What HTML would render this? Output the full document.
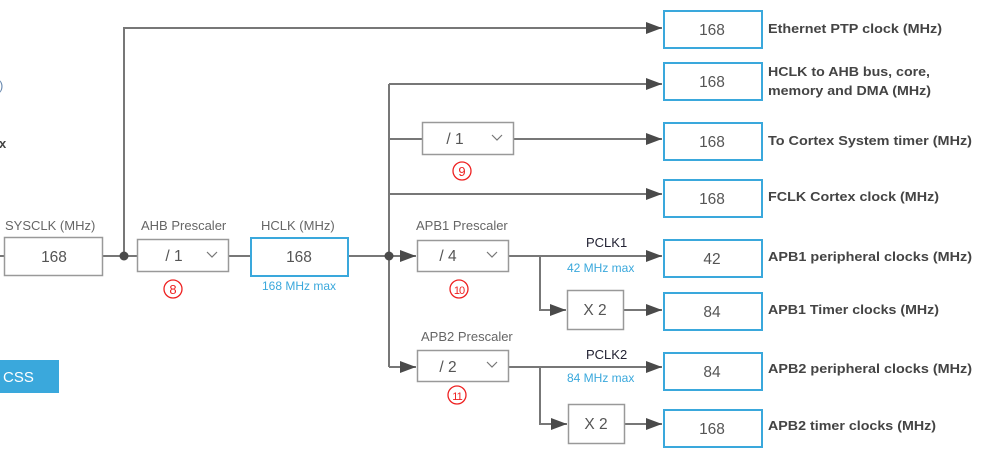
<!DOCTYPE html>
<html><head><meta charset="utf-8"><style>
html,body{margin:0;padding:0;background:#fff;}
svg{display:block;font-family:"Liberation Sans",Arial,sans-serif;}
</style></head><body>
<svg width="992" height="457" viewBox="0 0 992 457" xmlns="http://www.w3.org/2000/svg">
<defs>
<marker id="a" markerWidth="16" markerHeight="12" refX="16" refY="6" orient="auto" markerUnits="userSpaceOnUse">
<path d="M0,0 L16,6 L0,12 Z" fill="#4a4a4a"/></marker>
</defs>
<g stroke="#777" stroke-width="2" fill="none">
<line x1="0" y1="256" x2="4" y2="256"/>
<line x1="103" y1="256" x2="137" y2="256"/>
<polyline points="124,256 124,28 662,28" marker-end="url(#a)"/>
<line x1="228" y1="256" x2="250" y2="256"/>
<line x1="348" y1="256" x2="389" y2="256"/>
<line x1="389" y1="84" x2="389" y2="367"/>
<line x1="389" y1="84" x2="662" y2="84" marker-end="url(#a)"/>
<line x1="389" y1="139" x2="422" y2="139"/>
<line x1="514" y1="139" x2="662" y2="139" marker-end="url(#a)"/>
<line x1="389" y1="194" x2="662" y2="194" marker-end="url(#a)"/>
<line x1="389" y1="256" x2="416" y2="256" marker-end="url(#a)"/>
<line x1="389" y1="367" x2="416" y2="367" marker-end="url(#a)"/>
<line x1="508" y1="256" x2="662" y2="256" marker-end="url(#a)"/>
<polyline points="540,256 540,310 566,310" marker-end="url(#a)"/>
<line x1="623" y1="310" x2="662" y2="310" marker-end="url(#a)"/>
<line x1="508" y1="367" x2="662" y2="367" marker-end="url(#a)"/>
<polyline points="540,367 540,424 567,424" marker-end="url(#a)"/>
<line x1="624" y1="424" x2="662" y2="424" marker-end="url(#a)"/>
</g>
<circle cx="124" cy="256" r="4.5" fill="#4a4a4a"/>
<circle cx="389" cy="256" r="4.5" fill="#4a4a4a"/>
<g fill="#fff" stroke="#999" stroke-width="1.5">
<rect x="4.5" y="237.5" width="98" height="38"/>
<rect x="137.5" y="239.5" width="91" height="32"/>
<rect x="422.5" y="122.5" width="91" height="32"/>
<rect x="417.5" y="240.5" width="91" height="31"/>
<rect x="417.5" y="350.5" width="91" height="31"/>
<rect x="567.5" y="290.5" width="56" height="39"/>
<rect x="568.5" y="404.5" width="56" height="39"/>
</g>
<g fill="#fff" stroke="#3aa8dc" stroke-width="2">
<rect x="251" y="238" width="97" height="38"/>
<rect x="664" y="11" width="98" height="37"/>
<rect x="664" y="63" width="98" height="37"/>
<rect x="664" y="123" width="98" height="37"/>
<rect x="664" y="180" width="98" height="37"/>
<rect x="664" y="240" width="98" height="37"/>
<rect x="664" y="293" width="98" height="37"/>
<rect x="664" y="353" width="98" height="37"/>
<rect x="664" y="410" width="98" height="37"/>
</g>
<g fill="none" stroke="#777" stroke-width="1.2">
<polyline points="207,252 212,257 217,252"/>
<polyline points="492,135 497,140 502,135"/>
<polyline points="487,252 492,257 497,252"/>
<polyline points="487,362 492,367 497,362"/>
</g>
<g font-size="15.5" fill="#555" text-anchor="middle">
<text x="54" y="262">168</text>
<text x="299" y="262">168</text>
<text x="174" y="261">/ 1</text>
<text x="455" y="144">/ 1</text>
<text x="448" y="261">/ 4</text>
<text x="448" y="372">/ 2</text>
<text x="595" y="315">X 2</text>
<text x="596" y="429">X 2</text>
<text x="712" y="35">168</text>
<text x="712" y="87">168</text>
<text x="712" y="147">168</text>
<text x="712" y="204">168</text>
<text x="712" y="264">42</text>
<text x="712" y="317">84</text>
<text x="712" y="377">84</text>
<text x="712" y="434">168</text>
</g>
<g font-size="13" fill="#666">
<text x="5" y="230">SYSCLK (MHz)</text>
<text x="141" y="230">AHB Prescaler</text>
<text x="261" y="230">HCLK (MHz)</text>
<text x="416" y="230">APB1 Prescaler</text>
<text x="421" y="341">APB2 Prescaler</text>
</g>
<g font-size="13" fill="#223">
<text x="586" y="247">PCLK1</text>
<text x="586" y="359">PCLK2</text>
</g>
<g font-size="12" fill="#3aa8dc">
<text x="262" y="290">168 MHz max</text>
<text x="567" y="272">42 MHz max</text>
<text x="567" y="382">84 MHz max</text>
</g>
<g fill="none" stroke="#e22" stroke-width="1.3">
<circle cx="173" cy="289" r="9"/>
<circle cx="462" cy="171" r="9"/>
<circle cx="459" cy="289" r="9"/>
<circle cx="457" cy="395" r="9"/>
</g>
<g font-size="13" fill="#e22" text-anchor="middle">
<text x="173" y="294">8</text>
<text x="462" y="176">9</text>
<text x="459" y="294" font-size="11" letter-spacing="-1">10</text>
<text x="457" y="400" font-size="11" letter-spacing="-1">11</text>
</g>
<g font-size="13" font-weight="bold" fill="#444" lengthAdjust="spacingAndGlyphs">
<text x="768" y="33" textLength="174" lengthAdjust="spacingAndGlyphs">Ethernet PTP clock (MHz)</text>
<text x="768" y="76" textLength="162" lengthAdjust="spacingAndGlyphs">HCLK to AHB bus, core,</text>
<text x="768" y="95" textLength="163" lengthAdjust="spacingAndGlyphs">memory and DMA (MHz)</text>
<text x="768" y="145" textLength="204" lengthAdjust="spacingAndGlyphs">To Cortex System timer (MHz)</text>
<text x="768" y="201" textLength="171" lengthAdjust="spacingAndGlyphs">FCLK Cortex clock (MHz)</text>
<text x="768" y="261" textLength="204" lengthAdjust="spacingAndGlyphs">APB1 peripheral clocks (MHz)</text>
<text x="768" y="314" textLength="171" lengthAdjust="spacingAndGlyphs">APB1 Timer clocks (MHz)</text>
<text x="768" y="373" textLength="204" lengthAdjust="spacingAndGlyphs">APB2 peripheral clocks (MHz)</text>
<text x="768" y="430" textLength="168" lengthAdjust="spacingAndGlyphs">APB2 timer clocks (MHz)</text>
<text x="-1" y="148">x</text>
</g>
<text x="-1" y="90" font-size="13" fill="#6a8ab0">)</text>
<rect x="0" y="360" width="59" height="33" fill="#3aa8dc"/>
<text x="3" y="382" font-size="15" fill="#fff">CSS</text>
</svg>
</body></html>
